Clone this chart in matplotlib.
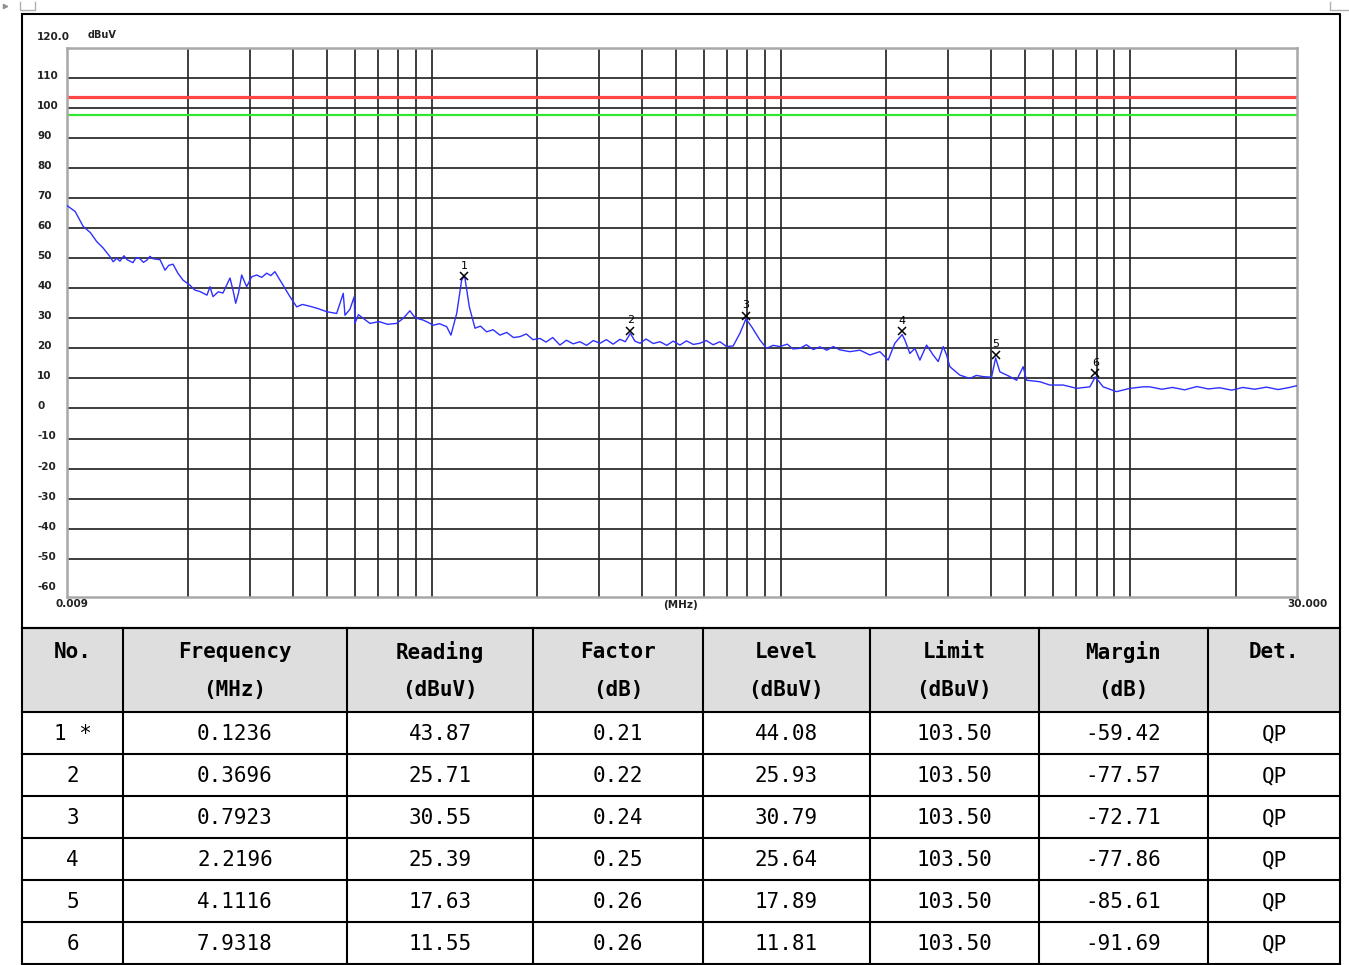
import matplotlib
matplotlib.use('Agg')
from matplotlib import pyplot as plt
from matplotlib.transforms import blended_transform_factory
from matplotlib.patches import Rectangle

#  scan trace (MHz, dBuV)
trace_freq = [0.009, 0.0095, 0.01002, 0.0105, 0.01095, 0.0114, 0.01195, 0.01221, 0.0125, 0.01276,
              0.0131, 0.01337, 0.0139, 0.0142, 0.01456, 0.0149, 0.01526, 0.01555, 0.01588, 0.01662,
              0.01718, 0.0176, 0.01811, 0.0187, 0.01934, 0.02025, 0.0209, 0.02163, 0.02265, 0.02311,
              0.02357, 0.0244, 0.02517, 0.02637, 0.02689, 0.02738, 0.0279, 0.02848, 0.02943, 0.03042,
              0.03144, 0.0325, 0.03358, 0.0345, 0.03546, 0.03667, 0.0378, 0.03916, 0.04093, 0.0425,
              0.04469, 0.0472, 0.04988, 0.05328, 0.05565, 0.05628, 0.05816, 0.05983, 0.0601, 0.0615,
              0.06349, 0.06636, 0.0705, 0.0745, 0.07915, 0.08267, 0.08638, 0.0885, 0.09029, 0.09432,
              0.0975, 0.1007, 0.105, 0.1101, 0.1132, 0.1176, 0.1215, 0.1236, 0.1242, 0.1278,
              0.1327, 0.1375, 0.1433, 0.1495, 0.1564, 0.1635, 0.171, 0.1785, 0.186, 0.1945,
              0.2036, 0.212, 0.2215, 0.2323, 0.2425, 0.2535, 0.265, 0.277, 0.2895, 0.3025,
              0.3155, 0.33, 0.345, 0.3575, 0.3696, 0.381, 0.3937, 0.41, 0.43, 0.4493,
              0.47, 0.49, 0.5126, 0.535, 0.56, 0.5847, 0.61, 0.638, 0.6672, 0.6973,
              0.7282, 0.7612, 0.7923, 0.8224, 0.8685, 0.9077, 0.948, 0.991, 1.04, 1.08,
              1.13, 1.18, 1.235, 1.29, 1.35, 1.41, 1.472, 1.573, 1.68, 1.794,
              1.916, 2.024, 2.115, 2.2196, 2.259, 2.335, 2.414, 2.495, 2.607, 2.723,
              2.815, 2.909, 2.975, 3.04, 3.247, 3.469, 3.62, 3.786, 4.001, 4.1116,
              4.227, 4.516, 4.721, 4.93, 5.042, 5.504, 5.878, 6.418, 7.01, 7.654,
              7.9318, 8.354, 9.127, 9.963, 10.88, 11.37, 12.3, 13.2, 14.3, 15.5,
              16.7, 18.0, 19.5, 21.0, 22.7, 24.5, 26.5, 28.3, 30.0]
trace_level = [67.5, 65.5, 60.5, 58.5, 55.5, 53.5, 50.5, 48.8, 50.0, 49.0,
               50.8, 49.5, 48.5, 50.2, 49.8, 48.6, 49.4, 50.6, 49.8, 49.5,
               46.0, 47.6, 48.0, 45.0, 42.7, 41.0, 39.4, 38.9, 37.7, 40.5,
               37.2, 38.8, 38.4, 43.4, 39.4, 35.0, 38.5, 44.4, 40.5, 43.8,
               44.4, 43.6, 45.0, 44.2, 45.5, 42.7, 40.2, 37.2, 33.8, 34.6,
               34.0, 33.2, 32.2, 31.6, 38.3, 31.0, 33.0, 37.2, 28.3, 31.2,
               30.0, 28.3, 28.9, 28.0, 28.3, 30.0, 32.5, 30.8, 30.0, 29.4,
               28.6, 27.7, 28.2, 27.2, 24.4, 31.6, 42.7, 44.1, 43.3, 33.8,
               26.7, 27.4, 25.5, 26.2, 24.4, 25.3, 23.6, 23.9, 24.8, 22.9,
               23.3, 22.1, 23.6, 21.1, 22.7, 21.5, 22.2, 21.0, 22.6, 21.7,
               22.9, 21.4, 23.0, 22.2, 25.0, 22.4, 21.7, 23.1, 21.6, 22.2,
               21.0, 22.4, 21.1, 22.5, 21.3, 21.7, 22.6, 21.2, 22.2, 20.6,
               20.8, 25.0, 29.8, 27.2, 22.8, 20.0, 21.0, 20.6, 21.4, 19.8,
               20.0, 21.2, 19.6, 20.5, 19.4, 20.6, 19.5, 18.9, 19.4, 17.8,
               18.9, 16.1, 21.7, 24.6, 22.8, 18.3, 20.0, 16.1, 21.1, 17.8,
               15.6, 20.6, 17.8, 13.9, 11.1, 10.0, 11.0, 10.6, 10.4, 16.8,
               12.2, 10.6, 9.4, 13.9, 9.4, 8.9, 7.8, 7.8, 6.7, 7.2,
               10.5, 7.2, 5.6, 6.7, 7.2, 7.2, 6.4, 7.0, 6.2, 7.3,
               6.5, 6.9, 6.1, 7.0, 6.4, 7.1, 6.3, 6.9, 7.6]

limit_level = 103.5
margin_level = 97.5

#  peak table
peak_no = ['1 *', '2', '3', '4', '5', '6']
peak_freq = [0.1236, 0.3696, 0.7923, 2.2196, 4.1116, 7.9318]
peak_reading = [43.87, 25.71, 30.55, 25.39, 17.63, 11.55]
peak_factor = [0.21, 0.22, 0.24, 0.25, 0.26, 0.26]
peak_level = [44.08, 25.93, 30.79, 25.64, 17.89, 11.81]
peak_limit = [103.50] * 6
peak_margin = [-59.42, -77.57, -72.71, -77.86, -85.61, -91.69]
peak_det = ['QP'] * 6

head_1 = ['No.', 'Frequency', 'Reading', 'Factor', 'Level', 'Limit', 'Margin', 'Det.']
head_2 = ['', '(MHz)', '(dBuV)', '(dB)', '(dBuV)', '(dBuV)', '(dB)', '']

y_labels = list(range(110, -70, -10))
grid_y = list(range(110, -60, -10))
grid_x = [0.02, 0.03, 0.04, 0.05, 0.06, 0.07, 0.08, 0.09, 0.1,
          0.2, 0.3, 0.4, 0.5, 0.6, 0.7, 0.8, 0.9, 1,
          2, 3, 4, 5, 6, 7, 8, 9, 10, 20]

W, H = 1349, 965
fig = plt.figure(figsize=(W / 100, H / 100), dpi=100)

#  page layer in pixel units
bg = fig.add_axes([0, 0, 1, 1])
bg.set_xlim(0, W)
bg.set_ylim(H, 0)
bg.axis('off')

ax = fig.add_axes([67 / W, 1 - 596.7 / H, 1230 / W, 549 / H])
ax.set_xscale('log')
ax.set_xlim(0.009, 30)
ax.set_ylim(-62.6, 120)
ax.set_xticks([])
ax.set_yticks([])
ax.minorticks_off()
for s in ax.spines.values():
    s.set_color('#a8a8a8')
    s.set_linewidth(1.8)

for g in grid_y:
    ax.axhline(g, color='#262626', lw=1.25, zorder=1)
for g in grid_x:
    ax.axvline(g, color='#262626', lw=1.25, zorder=1)

ax.axhline(limit_level, color='#ff4545', lw=2.3, zorder=2)
ax.axhline(margin_level, color='#33e633', lw=1.6, zorder=2)

ax.plot(trace_freq, trace_level, color='#2f2fff', lw=1.0, zorder=3)

ax.plot(peak_freq, peak_level, 'x', color='black', ms=6, mew=1.1, zorder=4)
for i, (f, v) in enumerate(zip(peak_freq, peak_level)):
    ax.annotate(str(i + 1), (f, v), xytext=(0, 7.5), textcoords='offset points',
                ha='center', va='center', fontsize=8, color='black', zorder=5)

#  axis labels, placed like the analyzer printout
tr = blended_transform_factory(bg.transData, ax.transData)
for v in y_labels:
    bg.text(37, v + 0.7, str(v), transform=tr, ha='left', va='center',
            fontsize=7.5, fontweight='bold', color='#222222')
bg.text(37, 37, '120.0', ha='left', va='center', fontsize=7.5, fontweight='bold', color='#222222')
bg.text(88, 35, 'dBuV', ha='left', va='center', fontsize=7, fontweight='bold', color='#222222')
bg.text(55, 604, '0.009', ha='left', va='center', fontsize=7.5, fontweight='bold', color='#222222')
bg.text(680, 605, '(MHz)', ha='center', va='center', fontsize=7.5, fontweight='bold', color='#222222')
bg.text(1287, 604, '30.000', ha='left', va='center', fontsize=7.5, fontweight='bold', color='#222222')
bg.text(1262, 83, 'FCC 18.305-9K-30M', ha='right', va='center', fontsize=7.5,
        fontweight='bold', color='#ff3030')
bg.text(1260, 103, 'Margin -6 dB', ha='right', va='center', fontsize=7.5,
        fontweight='bold', color='#22dd22')

#  page frame and crop marks
bg.plot([22, 1340, 1340, 22, 22], [14, 14, 628, 628, 14], color='black', lw=1.5)
bg.plot([20, 20, 35, 35], [2, 10, 10, 2], color='#b0b0b0', lw=1)
bg.plot([1330, 1330, 1349], [2, 10, 10], color='#b0b0b0', lw=1)
bg.plot([5], [6], marker='>', ms=3, color='#909090')

#  result table
col_x = [22, 123, 347, 533, 703, 870, 1039, 1208, 1340]
row_y = [628, 712, 754, 796, 838, 880, 922, 964]
bg.add_patch(Rectangle((col_x[0], row_y[0]), col_x[-1] - col_x[0], row_y[1] - row_y[0],
                       facecolor='#dedede', edgecolor='none', zorder=0))
for x in col_x:
    bg.plot([x, x], [row_y[0], row_y[-1]], color='black', lw=1.5)
for y in row_y:
    bg.plot([col_x[0], col_x[-1]], [y, y], color='black', lw=1.5)

centers = [(col_x[i] + col_x[i + 1]) / 2 for i in range(len(col_x) - 1)]
mono = 'DejaVu Sans Mono'
for c, t1, t2 in zip(centers, head_1, head_2):
    bg.text(c, 652, t1, ha='center', va='center', fontsize=15, fontweight='bold', family=mono)
    if t2:
        bg.text(c, 690, t2, ha='center', va='center', fontsize=15, fontweight='bold', family=mono)

for r in range(len(peak_no)):
    cells = [peak_no[r], '%.4f' % peak_freq[r], '%.2f' % peak_reading[r], '%.2f' % peak_factor[r],
             '%.2f' % peak_level[r], '%.2f' % peak_limit[r], '%.2f' % peak_margin[r], peak_det[r]]
    yc = (row_y[r + 1] + row_y[r + 2]) / 2 + 1
    for c, t in zip(centers, cells):
        bg.text(c, yc, t, ha='center', va='center', fontsize=15, family=mono)

fig.savefig('out.png', dpi=100)
